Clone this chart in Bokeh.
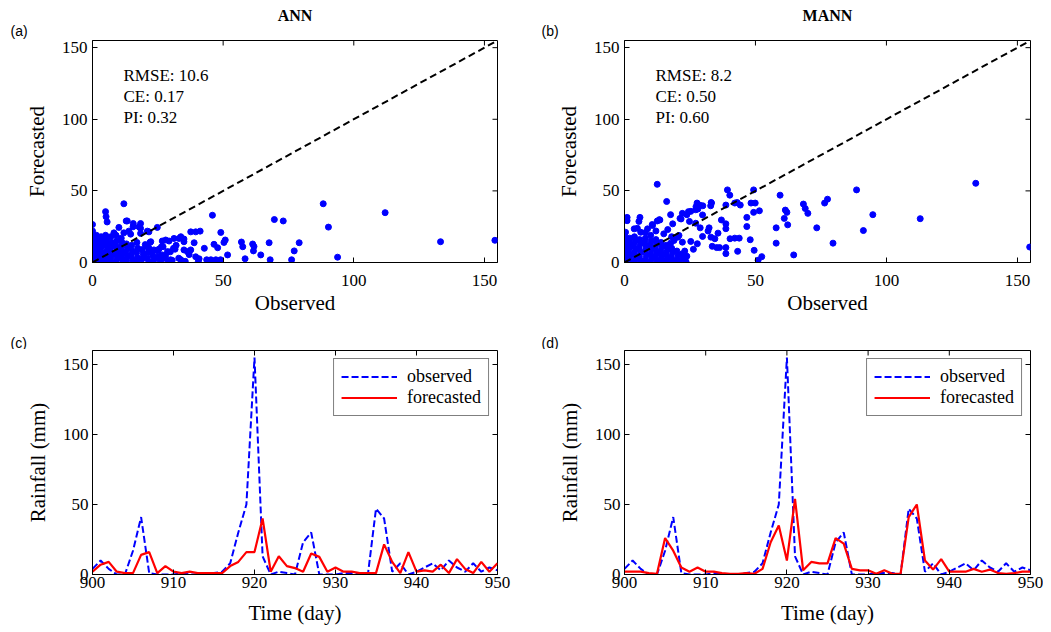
from bokeh.plotting import figure
from bokeh.layouts import column, row
from bokeh.models import Label, FixedTicker, Range1d, Slope
from bokeh.embed import file_html
from bokeh.resources import INLINE

SERIF = "Liberation Serif"
SANS = "Liberation Sans"
BLUE = "#0000ff"
RED = "#ff0000"

# ---------------- data ----------------
scatter_ticks = [0, 50, 100, 150]
rain_ticks = [0, 50, 100, 150]
day_ticks = [900, 910, 920, 930, 940, 950]

ann_stats = ["RMSE: 10.6", "CE: 0.17", "PI: 0.32"]
mann_stats = ["RMSE: 8.2", "CE: 0.50", "PI: 0.60"]

# (observed, forecasted) pairs, ANN
ann_points = [
    (12.0, 41.0), (5.0, 35.5), (5.2, 32.0), (5.6, 28.3), (12.9, 29.0), (15.5, 24.9), (0, 26.5),
    (18.4, 23.8), (24.8, 24.5), (10.1, 24.5), (13.9, 21.9), (21.6, 21.4), (21.0, 21.9), (17.8, 24.9),
    (18.4, 20.3), (14.6, 19.8), (12.0, 20.7), (8.2, 20.7), (13.3, 29.0), (15.6, 27.2), (18.4, 27.2),
    (45.9, 33.0), (88.3, 41.0), (112.0, 34.8), (69.6, 30.0), (73.0, 29.0), (90.3, 24.7), (133.2, 14.5),
    (154.0, 15.5), (93.8, 3.7), (49.1, 21.0), (50.8, 15.7), (50.3, 14.0), (46.5, 12.7), (47.9, 10.3),
    (51.7, 5.3), (57.0, 14.3), (57.5, 11.0), (61.3, 12.9), (61.8, 11.2), (61.6, 8.1), (64.4, 5.3),
    (67.6, 13.8), (79.1, 13.8), (77.2, 8.1), (76.2, 1.9), (68.0, 1.9), (58.4, 2.6), (42.8, 9.9),
    (47.2, 1.9), (49.0, 1.9), (45.3, 1.9), (43.7, 1.9), (37.6, 21.4), (39.5, 21.4), (41.2, 21.9),
    (38.9, 13.8), (39.5, 4.0), (36.3, 7.6), (37.0, 5.5), (35.0, 14.5), (33.1, 16.8), (29.3, 15.0),
    (26.7, 15.0), (26.4, 11.0), (31.6, 9.3), (29.8, 7.5), (30.5, 1.5), (28.0, 15.7), (31.2, 16.8),
    (35.0, 16.4), (33.8, 18.0), (20.2, 12.5), (23.5, 8.8), (22.0, 14.0), (25.0, 4.0), (33.0, 3.0),
    (35.5, 0.8), (40.5, 0.8), (27.5, 3.0), (32.0, 12.0), (35.0, 8.8), (37.6, 8.8), (31.0, 9.9),
    (28.7, 7.6), (25.4, 9.3), (22.3, 14.5), (21.6, 9.9), (22.9, 7.6), (26.1, 1.9), (29.9, 1.9),
    (33.8, 1.9), (40.8, 2.6), (26.7, 5.3),
    (0, 22), (0.3, 19), (0, 16), (0.5, 13), (0, 10), (0.4, 7), (0, 4), (0.3, 1),
    (1.5, 19), (1.8, 16), (2.0, 13), (1.6, 10), (2.2, 7), (1.8, 4), (2.0, 1.5),
    (3.3, 18), (3.5, 15), (3.8, 12), (3.2, 9), (3.6, 6), (3.5, 3), (3.8, 0.8),
    (5.0, 19), (5.4, 16), (5.2, 13), (5.6, 10), (5.1, 7), (5.5, 4), (5.3, 1.2),
    (7.0, 18), (7.3, 14), (7.1, 11), (6.8, 8), (7.4, 5), (7.0, 2),
    (9.0, 19), (9.2, 15), (8.8, 12), (9.3, 9), (9.0, 6), (9.4, 3), (9.0, 0.7),
    (11.0, 17), (11.3, 14), (10.8, 11), (11.2, 8), (11.0, 5), (11.4, 2),
    (13.0, 13), (13.3, 10), (12.8, 7), (13.2, 4), (13.0, 1),
    (15.0, 12), (15.2, 8), (14.8, 5), (15.3, 2),
    (17.0, 14), (17.3, 10), (16.9, 7), (17.2, 3.5), (17.0, 0.8),
    (19.0, 9), (19.4, 6), (19.0, 2.5), (21.0, 11), (21.3, 7), (21.0, 3), (21.5, 0.5),
    (23.0, 5), (23.4, 1.5), (25.0, 8), (25.3, 3), (26.0, 0.5), (27.0, 11), (28.0, 5), (29.0, 1),
]

# (observed, forecasted) pairs, MANN
mann_points = [
    (12.5, 54.6), (134.1, 55.3), (88.6, 50.7), (39.3, 50.7), (40.2, 47.0), (49.3, 50.7), (59.4, 47.0),
    (16.1, 42.6), (77.5, 44.2), (76.4, 41.5), (68.3, 40.8), (69.0, 37.7), (70.0, 34.3), (61.4, 36.6),
    (62.0, 35.0), (61.0, 30.8), (62.3, 26.3), (57.9, 24.2), (57.9, 13.5), (94.8, 33.4), (112.9, 30.6),
    (91.2, 22.3), (73.4, 24.2), (79.6, 13.5), (64.6, 5.3), (154.7, 10.8), (51.0, 1.6), (52.4, 4.1),
    (49.5, 8.5), (48.0, 15.9), (46.7, 25.1), (46.7, 31.5), (49.3, 35.0), (51.5, 36.1), (49.9, 41.5),
    (48.3, 41.5), (44.2, 40.1), (42.1, 41.5), (38.7, 40.1), (33.2, 41.5), (32.9, 39.6), (27.7, 41.5),
    (27.3, 39.0), (28.8, 40.0), (27.2, 36.8), (22.1, 34.3), (25.3, 35.7), (23.8, 33.4), (21.2, 30.8),
    (29.8, 33.2), (17.6, 33.4), (13.5, 29.7), (12.5, 29.0), (10.6, 26.5), (5.9, 31.5), (5.5, 28.7),
    (4.9, 23.9), (1.0, 31.5), (1.0, 29.2), (0.4, 21.1), (27.2, 27.4), (28.9, 24.2), (32.3, 24.2),
    (31.9, 22.0), (35.7, 20.5), (38.7, 27.0), (38.7, 23.6), (37.0, 29.7), (34.5, 16.6), (33.0, 17.7),
    (36.3, 10.4), (38.7, 10.4), (38.7, 6.2), (33.5, 11.3), (35.2, 10.4), (40.3, 16.6), (42.1, 17.0),
    (43.8, 17.0), (43.2, 7.8), (27.8, 13.1), (25.3, 14.7), (26.3, 9.2), (23.0, 8.0), (23.8, 4.4),
    (29.8, 18.2), (18.9, 15.4), (20.8, 18.9), (22.1, 14.2), (17.6, 13.5), (24.8, 28.7),
    (10.7, 25.8), (13.3, 29.9), (16.5, 23.0), (18.4, 27.0), (21.6, 30.4), (24.4, 35.5), (28.0, 37.3),
    (29.9, 39.6), (33.1, 41.9), (43.0, 41.9), (20.3, 17.7), (8.8, 23.5), (6.2, 21.1), (3.7, 23.5),
    (0, 19), (0.4, 16), (0, 13), (0.5, 10), (0, 7), (0.3, 4), (0, 1),
    (2.0, 17), (1.8, 14), (2.2, 11), (1.7, 8), (2.1, 5), (1.9, 2),
    (3.8, 18), (4.0, 15), (3.6, 12), (4.1, 9), (3.7, 6), (4.2, 3), (3.9, 0.5),
    (5.8, 16), (6.0, 13), (5.6, 10), (6.1, 7), (5.7, 4), (6.2, 1),
    (8.0, 17), (7.8, 14), (8.2, 11), (7.9, 8), (8.3, 5), (8.0, 2),
    (10.0, 19), (10.2, 15), (9.8, 12), (10.3, 9), (10.0, 6), (10.4, 3), (10.0, 0.5),
    (12.0, 16), (12.2, 13), (11.8, 10), (12.3, 7), (12.0, 4), (12.4, 1),
    (14.0, 14), (14.3, 11), (13.8, 8), (14.2, 5), (14.0, 2),
    (16.0, 12), (16.3, 9), (15.9, 6), (16.2, 3), (16.0, 0.5),
    (18.0, 10), (18.3, 7), (17.9, 4), (18.2, 1.5),
    (20.0, 8), (20.4, 5), (20.0, 2), (20.5, 0.3),
    (22.0, 6), (22.3, 2.5), (23.5, 0.5), (15.0, 20), (12.0, 22), (8.0, 21), (18.0, 18),
]

days = list(range(900, 951))
observed = [4, 10, 4, 0, 0, 17, 41, 1, 0, 0, 0, 1, 0, 0, 0, 1, 2, 8, 30, 50, 155,
            13, 0, 2, 1, 0, 23, 30, 0, 0, 0, 1, 1, 1, 0, 47, 40, 2, 8, 0, 2,
            5, 8, 3, 10, 5, 2, 8, 2, 5, 3]
ann_forecast = [2, 7, 9, 2, 1, 1, 14, 16, 1, 6, 2, 1, 2, 1, 1, 1, 1, 6, 9, 16, 16,
                40, 2, 13, 6, 4.6, 2, 15, 12.6, 2, 5, 2, 2, 1, 1, 1, 21.5, 9, 1, 16, 2,
                3, 2, 7, 1, 11, 4, 1, 9, 2, 8]
mann_forecast = [2, 2, 2, 1, 0.5, 26, 17, 5, 2, 5, 2, 2, 1, 0.5, 0.5, 1, 0.5, 4, 23, 35, 10,
                 54, 3, 9, 8, 8, 26, 22, 4, 3, 3, 0.5, 3, 0.5, 0.5, 41, 50, 10, 3.5, 11, 2,
                 2, 2, 4, 2, 3.5, 1, 0.5, 1, 2, 2]

TICK = 5  # px, inward tick length


def style_axes(p, xt, yt, frame_w, frame_h):
    p.xaxis.ticker = FixedTicker(ticks=xt)
    p.yaxis.ticker = FixedTicker(ticks=yt)
    for ax in (p.xaxis[0], p.yaxis[0]):
        ax.major_tick_in = TICK
        ax.major_tick_out = 0
        ax.minor_tick_line_color = None
        ax.axis_line_color = "black"
        ax.major_tick_line_color = "black"
        ax.major_label_text_font = SERIF
        ax.major_label_text_font_size = "17px"
        ax.major_label_text_color = "black"
        ax.axis_label_text_font = SERIF
        ax.axis_label_text_font_size = "21px"
        ax.axis_label_text_font_style = "normal"
        ax.axis_label_text_color = "black"
    p.xgrid.visible = False
    p.ygrid.visible = False
    p.outline_line_color = "black"
    p.outline_line_alpha = 1.0
    # box ticks on top and right edges (MATLAB style), drawn inward
    x0, x1 = p.x_range.start, p.x_range.end
    y0, y1 = p.y_range.start, p.y_range.end
    dx = TICK * (x1 - x0) / frame_w
    dy = TICK * (y1 - y0) / frame_h
    p.segment(x0=xt, y0=[y1] * len(xt), x1=xt, y1=[y1 - dy] * len(xt), line_color="black", line_width=1)
    p.segment(x0=[x1] * len(yt), y0=yt, x1=[x1 - dx] * len(yt), y1=yt, line_color="black", line_width=1)


def add_label(p, x, y, text, font=SERIF, size="17px", style="normal", align="left"):
    p.add_layout(Label(x=x, y=y, x_units="screen", y_units="screen", text=text,
                       text_font=font, text_font_size=size, text_font_style=style,
                       text_align=align, text_baseline="middle", text_color="black"))


def strip(height, items):
    p = figure(width=1043, height=height, x_range=Range1d(0, 1043), y_range=Range1d(0, height),
               output_backend="svg", toolbar_location=None, x_axis_type=None, y_axis_type=None,
               min_border=0, title=None)
    p.outline_line_color = None
    p.xgrid.visible = False
    p.ygrid.visible = False
    for (x, y, text, font, size, style, align) in items:
        add_label(p, x, y, text, font=font, size=size, style=style, align=align)
    return p


def scatter_panel(points, stats, width, left, right):
    height, top, bottom = 289, 1, 66
    p = figure(width=width, height=height, x_range=Range1d(0, 155), y_range=Range1d(0, 155),
               output_backend="svg", toolbar_location=None, title=None,
               min_border_left=left, min_border_right=right, min_border_top=top, min_border_bottom=bottom)
    fw, fh = width - left - right, height - top - bottom
    style_axes(p, scatter_ticks, scatter_ticks, fw, fh)
    p.xaxis[0].axis_label = "Observed"
    p.yaxis[0].axis_label = "Forecasted"
    p.xaxis[0].major_label_standoff = 12
    p.xaxis[0].axis_label_standoff = 2
    p.yaxis[0].major_label_standoff = 5
    p.yaxis[0].axis_label_standoff = 10
    obs = [pt[0] for pt in points]
    fc = [pt[1] for pt in points]
    p.scatter(obs, fc, size=6, fill_color=BLUE, line_color=BLUE)
    p.add_layout(Slope(gradient=1, y_intercept=0, line_color="black", line_width=2, line_dash="7 4"))
    for i, s in enumerate(stats):
        add_label(p, 31, fh - 35 - 21 * i, s)
    return p


def series_panel(forecast, width, left, right):
    height, top, bottom = 279, 1, 54
    p = figure(width=width, height=height, x_range=Range1d(900, 950), y_range=Range1d(0, 160),
               output_backend="svg", toolbar_location=None, title=None,
               min_border_left=left, min_border_right=right, min_border_top=top, min_border_bottom=bottom)
    fw, fh = width - left - right, height - top - bottom
    style_axes(p, day_ticks, rain_ticks, fw, fh)
    p.xaxis[0].axis_label = "Time (day)"
    p.yaxis[0].axis_label = "Rainfall (mm)"
    p.xaxis[0].major_label_standoff = 2
    p.xaxis[0].axis_label_standoff = 10
    p.yaxis[0].major_label_standoff = 4
    p.yaxis[0].axis_label_standoff = 10
    p.line(days, observed, line_color=BLUE, line_width=2, line_dash="7 3", legend_label="observed")
    p.line(days, forecast, line_color=RED, line_width=2.2, legend_label="forecasted")
    lg = p.legend[0]
    lg.location = "top_right"
    lg.margin = 8
    lg.padding = 7
    lg.spacing = 0
    lg.glyph_width = 56
    lg.glyph_height = 21
    lg.label_height = 21
    lg.label_standoff = 10
    lg.label_text_font = SERIF
    lg.label_text_font_size = "18px"
    lg.label_text_color = "black"
    lg.border_line_color = "black"
    lg.border_line_width = 1
    lg.background_fill_alpha = 1.0
    return p


header_top = strip(39, [
    (10, 8.5, "(a)", SANS, "14px", "normal", "left"),
    (294.5, 24, "ANN", SERIF, "16px", "bold", "center"),
    (541, 8.5, "(b)", SANS, "14px", "normal", "left"),
    (827, 24, "MANN", SERIF, "16px", "bold", "center"),
])
header_mid = strip(21, [
    (10, 7, "(c)", SANS, "14px", "normal", "left"),
    (541, 7, "(d)", SANS, "14px", "normal", "left"),
])

pa = scatter_panel(ann_points, ann_stats, 528, 92, 31)
pb = scatter_panel(mann_points, mann_stats, 515, 96, 13)
pc = series_panel(ann_forecast, 528, 92, 31)
pd = series_panel(mann_forecast, 515, 96, 13)

layout = column(header_top, row(pa, pb), header_mid, row(pc, pd))
open("out.html", "w").write(file_html(layout, INLINE))
